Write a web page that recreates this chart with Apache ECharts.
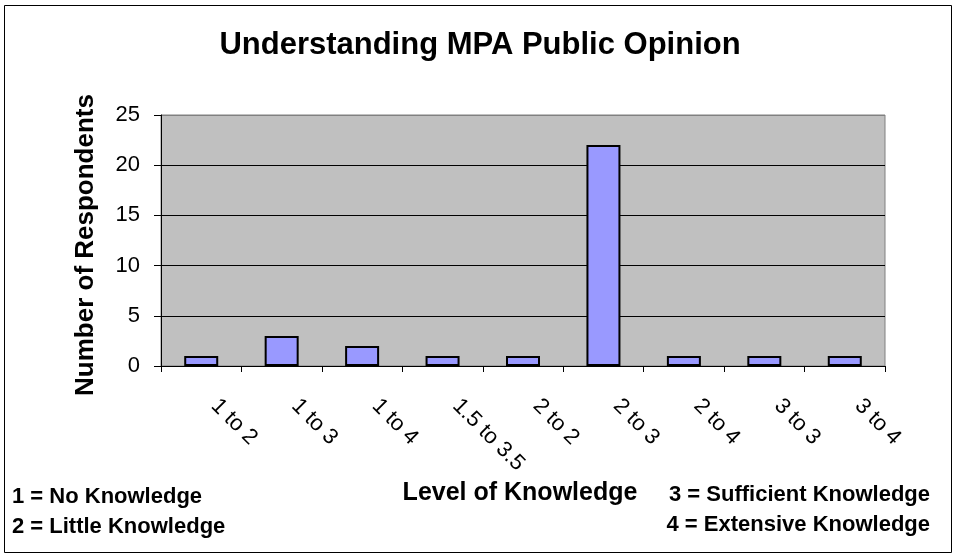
<!DOCTYPE html>
<html>
<head>
<meta charset="utf-8">
<script src="https://cdn.jsdelivr.net/npm/echarts@6/dist/echarts.min.js"></script>
<style>
html,body{margin:0;padding:0;background:#fff;}
#chart{width:955px;height:554px;}
</style>
</head>
<body>
<div id="chart"></div>
<script>
const categories = ['1 to 2', '1 to 3', '1 to 4', '1.5 to 3.5', '2 to 2', '2 to 3', '2 to 4', '3 to 3', '3 to 4'];
const respondents = [1, 3, 2, 1, 1, 22, 1, 1, 1];
const titleText = 'Understanding MPA Public Opinion';
const yAxisTitle = 'Number of Respondents';
const xAxisTitle = 'Level of Knowledge';
const keyLeft = ['1 = No Knowledge', '2 = Little Knowledge'];
const keyRight = ['3 = Sufficient Knowledge', '4 = Extensive Knowledge'];

const FONT = '"Liberation Sans", Arial, sans-serif';
const chart = echarts.init(document.getElementById('chart'), null, {renderer: 'canvas'});

chart.setOption({
  backgroundColor: '#ffffff',
  animation: false,
  grid: {
    left: 161, right: 70, top: 115, bottom: 188,
    show: true, backgroundColor: '#C0C0C0', borderColor: '#808080', borderWidth: 1
  },
  xAxis: {
    type: 'category',
    data: categories,
    boundaryGap: true,
    axisLine: {show: true, lineStyle: {color: '#000', width: 1}},
    axisTick: {show: true, length: 6, inside: false, lineStyle: {color: '#000'}},
    axisLabel: {rotate: -45, margin: 23, color: '#000', fontSize: 22, fontFamily: FONT, interval: 0,
      padding: [0, 0, 0, 19]},
    splitLine: {show: false}
  },
  yAxis: {
    type: 'value',
    min: 0, max: 25, interval: 5,
    axisLine: {show: true, lineStyle: {color: '#000', width: 1}},
    axisTick: {show: true, length: 7, inside: false, lineStyle: {color: '#000'}},
    axisLabel: {margin: 21, color: '#000', fontSize: 22, fontFamily: FONT},
    splitLine: {show: true, lineStyle: {color: ['#000', '#000', '#000', '#000', '#000', '#808080'], width: 1}}
  },
  series: [{
    type: 'bar',
    data: respondents,
    barWidth: 34,
    itemStyle: {color: '#9999FF', borderColor: '#000', borderWidth: 2}
  }],
  graphic: [
    {type: 'rect', silent: true, z: 100, shape: {x: 4.5, y: 5.5, width: 947, height: 547},
     style: {fill: 'none', stroke: '#000', lineWidth: 1}},
    {type: 'text', x: 480, y: 45, style: {text: titleText, fontSize: 31, fontWeight: 'bold', fontFamily: FONT,
      fill: '#000', textAlign: 'center', textVerticalAlign: 'middle'}},
    {type: 'text', x: 86, y: 245, rotation: Math.PI / 2, style: {text: yAxisTitle, fontSize: 26, fontWeight: 'bold', fontFamily: FONT,
      fill: '#000', textAlign: 'center', textVerticalAlign: 'middle'}},
    {type: 'text', x: 520, y: 493, style: {text: xAxisTitle, fontSize: 25, fontWeight: 'bold', fontFamily: FONT,
      fill: '#000', textAlign: 'center', textVerticalAlign: 'middle'}},
    {type: 'text', x: 12, y: 497, style: {text: keyLeft[0], fontSize: 22, fontWeight: 'bold', fontFamily: FONT,
      fill: '#000', textAlign: 'left', textVerticalAlign: 'middle'}},
    {type: 'text', x: 12, y: 527, style: {text: keyLeft[1], fontSize: 22, fontWeight: 'bold', fontFamily: FONT,
      fill: '#000', textAlign: 'left', textVerticalAlign: 'middle'}},
    {type: 'text', x: 930, y: 495, style: {text: keyRight[0], fontSize: 22, fontWeight: 'bold', fontFamily: FONT,
      fill: '#000', textAlign: 'right', textVerticalAlign: 'middle'}},
    {type: 'text', x: 930, y: 525, style: {text: keyRight[1], fontSize: 22, fontWeight: 'bold', fontFamily: FONT,
      fill: '#000', textAlign: 'right', textVerticalAlign: 'middle'}}
  ]
});
</script>
</body>
</html>
